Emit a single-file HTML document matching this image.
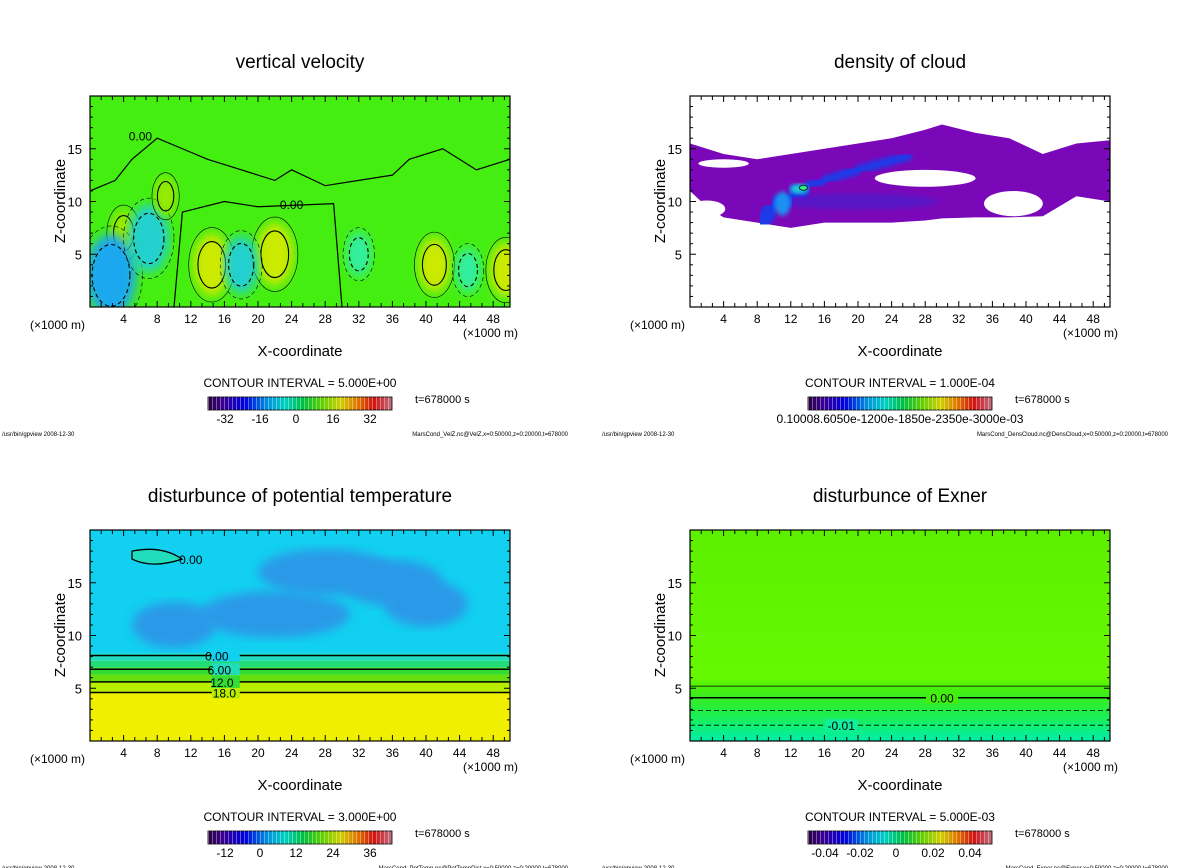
<!DOCTYPE html>
<html><head><meta charset="utf-8">
<style>
body{margin:0;background:#fff;}
svg{display:block;font-family:"Liberation Sans",sans-serif;}
</style></head>
<body>
<svg id="fig" width="1200" height="868" viewBox="0 0 1200 868" xmlns="http://www.w3.org/2000/svg">
<defs>
<linearGradient id="rainbow" x1="0" x2="1" y1="0" y2="0">
<stop offset="0" stop-color="#2a0040"/><stop offset="0.08" stop-color="#3a0090"/>
<stop offset="0.2" stop-color="#0000e0"/><stop offset="0.32" stop-color="#0090e0"/>
<stop offset="0.42" stop-color="#00d0c0"/><stop offset="0.52" stop-color="#00c040"/>
<stop offset="0.62" stop-color="#60d000"/><stop offset="0.72" stop-color="#d0d000"/>
<stop offset="0.82" stop-color="#e07000"/><stop offset="0.9" stop-color="#d01010"/>
<stop offset="1" stop-color="#c07080"/></linearGradient>
<pattern id="stripes" width="4" height="14" patternUnits="userSpaceOnUse"><rect x="0" y="0" width="1" height="14" fill="#fff" opacity="0.35"/></pattern>
<filter id="blur6"><feGaussianBlur stdDeviation="5"/></filter>
<filter id="blur3"><feGaussianBlur stdDeviation="2"/></filter>
<linearGradient id="exgrad" x1="0" x2="0" y1="0" y2="1">
<stop offset="0" stop-color="#5cf000"/><stop offset="0.7" stop-color="#66f800"/>
<stop offset="0.76" stop-color="#44ee11"/><stop offset="0.86" stop-color="#22ee44"/>
<stop offset="1" stop-color="#00eea8"/></linearGradient>
</defs>
<g id="root"></g>
</svg>
<script>
// ---- data arrays ----
const xTicks = [4,8,12,16,20,24,28,32,36,40,44,48];
const zTicks = [5,10,15];
const panelTitles = ["vertical velocity","density of cloud","disturbunce of potential temperature","disturbunce of Exner"];
const intervals = ["5.000E+00","1.000E-04","3.000E+00","5.000E-03"];
const cbLabels0 = ["-32","-16","0","16","32"];
const cbLabels2 = ["-12","0","12","24","36"];
const cbLabels3 = ["-0.04","-0.02","0","0.02","0.04"];
const footers = ["MarsCond_VelZ.nc@VelZ,x=0:50000,z=0:20000,t=678000","MarsCond_DensCloud.nc@DensCloud,x=0:50000,z=0:20000,t=678000","MarsCond_PotTemp.nc@PotTempDist,x=0:50000,z=0:20000,t=678000","MarsCond_Exner.nc@Exner,x=0:50000,z=0:20000,t=678000"];
// vertical velocity cells: x, z (km), value (m/s)
const wX = [14.5,22,41,49.5,4,2.5,7,18,32,45,9];
const wZ = [4,5,4,3.5,7,3,6.5,4,5,3.5,10.5];
const wV = [12,12,9,9,6,-20,-14,-10,-5,-5,3];
// cloud band profile
const cloudX   = [0,2,4,8,12,16,20,24,28,30,34,38,42,46,50];
const cloudTop = [15.5,15,14.5,14,14.5,15,15.5,16,16.8,17.3,16.5,16,14.5,15.5,15.8];
const cloudBot = [11,9.5,8.5,8,7.5,8,8,8,8.2,8.4,8.5,8.5,8.6,10.5,10];
const holeX=[28,38.5,2,4]; const holeZ=[12.2,9.8,9.3,13.6]; const holeRX=[6,3.5,2.2,3]; const holeRZ=[0.8,1.2,0.8,0.4];
const blueX=[8.5,10,12,14,16,20,26]; const blueZ=[8,9.5,10.5,11.5,12,13,14.3];
// potential temperature bands (z bottom, colour)
const thZ=[0,4.6,5.6,6.3,7,7.6,8.3];
const thC=["#eef000","#b8ee00","#66e010","#33dd33","#22dd77","#22ddbb","#11d0f0"];
const thLineZ=[4.6,5.6,6.8,8.1]; const thLineLab=["18.0","12.0","6.00","0.00"];
const thBlobX=[22,28,36,10,40]; const thBlobZ=[12,16,15,11,13]; const thBlobR=[9,8,6,5,5];
// Exner contours
const exLineZ=[5.2,4.1,2.9,1.5]; const exLineLab=["","0.00","","-0.01"];

const NS="http://www.w3.org/2000/svg";
const root=document.getElementById('root');
function el(tag,attrs,parent){const e=document.createElementNS(NS,tag);for(const k in attrs)e.setAttribute(k,attrs[k]);(parent||root).appendChild(e);return e;}
function txt(s,x,y,size,anchor,parent){const t=el('text',{x:x,y:y,'font-size':size,'text-anchor':anchor||'middle',fill:'#000'},parent);t.textContent=s;return t;}

const panels=[{ox:90,oy:96},{ox:690,oy:96},{ox:90,oy:530},{ox:690,oy:530}];
const PW=420, PH=211;
function sx(p,x){return p.ox+x/50*PW;}
function sz(p,z){return p.oy+PH-z/20*PH;}

panels.forEach((p,i)=>{
  const g=el('g',{});
  
  
  const t=txt(panelTitles[i],p.ox+210,p.oy-28,19,'middle',g);
  
  
  const clip=el('clipPath',{id:'clip'+i},g);
  el('rect',{x:p.ox,y:p.oy,width:PW,height:PH},clip);
  const plot=el('g',{'clip-path':'url(#clip'+i+')'},g);
  
  
  if(i===0){
    el('rect',{x:p.ox,y:p.oy,width:PW,height:PH,fill:'#44ee11'},plot);
    wX.forEach((x,k)=>{
      const v=wV[k];
      const col=v>0?(v>8?'#ccea00':'#99ea00'):(v<-15?'#1fa8ee':(v<-8?'#22d0d0':'#33eea0'));
      const rx=Math.abs(v)*0.1+1, rz=Math.abs(v)*0.12+1.5;
      const e=el('ellipse',{cx:sx(p,x),cy:sz(p,wZ[k]),rx:rx/50*PW,ry:rz/20*PH,fill:col,filter:'url(#blur6)'},plot);
      
      
      el('ellipse',{cx:sx(p,x),cy:sz(p,wZ[k]),rx:rx*0.75/50*PW,ry:rz*0.75/20*PH,fill:'none',stroke:'#000','stroke-width':1.1,'stroke-dasharray':v<0?'4 3':'none'},plot);
      el('ellipse',{cx:sx(p,x),cy:sz(p,wZ[k]),rx:rx*1.25/50*PW,ry:rz*1.2/20*PH,fill:'none',stroke:'#000','stroke-width':0.6,'stroke-dasharray':v<0?'4 3':'none'},plot);
    });
    let d='M'+sx(p,0)+','+sz(p,11);
    [[3,12],[5,14],[8,16],[11,15],[14,14],[18,13],[22,12],[24,13],[28,11.5],[32,12],[36,12.5],[38,14],[42,15],[46,13],[50,14]].forEach(q=>d+=' L'+sx(p,q[0])+','+sz(p,q[1]));
    el('path',{d:d,fill:'none',stroke:'#000','stroke-width':1.2},plot);
    let d2='M'+sx(p,10)+','+sz(p,0);
    [[11,9],[16,10],[20,9.5],[29,9.8],[30,0]].forEach(q=>d2+=' L'+sx(p,q[0])+','+sz(p,q[1]));
    el('path',{d:d2,fill:'none',stroke:'#000','stroke-width':1.2},plot);
    txt('0.00',sx(p,6),sz(p,15.8),12,'middle',plot);
    txt('0.00',sx(p,24),sz(p,9.3),12,'middle',plot);
  } else if(i===1){
    el('rect',{x:p.ox,y:p.oy,width:PW,height:PH,fill:'#fff'},plot);
    let d='M'+sx(p,cloudX[0])+','+sz(p,cloudTop[0]);
    cloudX.forEach((x,k)=>d+=' L'+sx(p,x)+','+sz(p,cloudTop[k]));
    for(let k=cloudX.length-1;k>=0;k--)d+=' L'+sx(p,cloudX[k])+','+sz(p,cloudBot[k]);
    const c=el('path',{d:d+'Z',fill:'#7a08b8'},plot);
    
    
    el('ellipse',{cx:sx(p,20),cy:sz(p,10),rx:80,ry:8,fill:'#4a1ccc',filter:'url(#blur3)',opacity:0.7},plot);
    holeX.forEach((x,k)=>{const h=el('ellipse',{cx:sx(p,x),cy:sz(p,holeZ[k]),rx:holeRX[k]/50*PW,ry:holeRZ[k]/20*PH,fill:'#fff'},plot);
      
      });
    blueX.forEach((x,k)=>{if(k===0)return;
      const l=el('line',{x1:sx(p,blueX[k-1]),y1:sz(p,blueZ[k-1]),x2:sx(p,x),y2:sz(p,blueZ[k]),stroke:'#1a3ae8','stroke-width':k<4?16:9,'stroke-linecap':'round',filter:'url(#blur3)'},plot);
      
      });
    el('ellipse',{cx:sx(p,11),cy:sz(p,9.8),rx:8,ry:12,fill:'#1a90f0',filter:'url(#blur3)'},plot);
    el('ellipse',{cx:sx(p,13),cy:sz(p,11.2),rx:9,ry:5,fill:'#22c8d8',filter:'url(#blur3)'},plot);
    el('ellipse',{cx:sx(p,13.5),cy:sz(p,11.3),rx:4,ry:2.5,fill:'#33ee88',stroke:'#000','stroke-width':0.8},plot);
  } else if(i===2){
    thZ.forEach((z,k)=>{const top=k<thZ.length-1?thZ[k+1]:20;
      const r=el('rect',{x:p.ox,y:sz(p,top),width:PW,height:sz(p,z)-sz(p,top),fill:thC[k]},plot);
      
      });
    thBlobX.forEach((x,k)=>{const b=el('ellipse',{cx:sx(p,x),cy:sz(p,thBlobZ[k]),rx:thBlobR[k]/50*PW,ry:2.2/20*PH,fill:'#2a9ae8',filter:'url(#blur6)'},plot);
      
      });
    thLineZ.forEach((z,k)=>{
      const l=el('line',{x1:p.ox,x2:p.ox+PW,y1:sz(p,z),y2:sz(p,z),stroke:'#000','stroke-width':1.5},plot);
      
      
      el('rect',{x:sx(p,14.5),y:sz(p,z)-6,width:28,height:12,fill:thC[Math.min(k*2+1,6)]},plot);
      txt(thLineLab[k],sx(p,16+k*-0.3),sz(p,z)+5,12,'middle',plot);
    });
    el('path',{d:`M${sx(p,5)},${sz(p,18)} q30,-6 50,8 q-30,10 -50,0Z`,fill:'#22ddbb',stroke:'#000','stroke-width':1.3},plot);
    txt('0.00',sx(p,12),sz(p,16.8),12,'middle',plot);
  } else {
    const r=el('rect',{x:p.ox,y:p.oy,width:PW,height:PH,fill:'url(#exgrad)'},plot);
    
    
    exLineZ.forEach((z,k)=>{
      const l=el('line',{x1:p.ox,x2:p.ox+PW,y1:sz(p,z),y2:sz(p,z),stroke:'#000','stroke-width':k===1?1.6:0.8,'stroke-dasharray':z<4?'5 3':'none'},plot);
      
      
      if(exLineLab[k]){const lx=k===1?sx(p,30):sx(p,18);
        el('rect',{x:lx-16,y:sz(p,z)-6,width:32,height:12,fill:k===1?'#44ee11':'#11eea0'},plot);
        txt(exLineLab[k],lx,sz(p,z)+5,12,'middle',plot);}
    });
  }
  const fr=el('rect',{x:p.ox,y:p.oy,width:PW,height:PH,fill:'none',stroke:'#000','stroke-width':1.2},g);
  
  
  for(let x=4/3;x<50;x+=4/3){const big=Math.abs(x/4-Math.round(x/4))<0.01;const L=big?6:4;
    el('line',{x1:sx(p,x),x2:sx(p,x),y1:p.oy+PH,y2:p.oy+PH-L,stroke:'#000'},g);
    el('line',{x1:sx(p,x),x2:sx(p,x),y1:p.oy,y2:p.oy+L,stroke:'#000'},g);}
  for(let z=1;z<20;z++){const L=z%5===0?6:3;
    el('line',{x1:p.ox,x2:p.ox+L,y1:sz(p,z),y2:sz(p,z),stroke:'#000'},g);
    el('line',{x1:p.ox+PW,x2:p.ox+PW-L,y1:sz(p,z),y2:sz(p,z),stroke:'#000'},g);}
  xTicks.forEach(x=>{const t=txt(String(x),sx(p,x),p.oy+PH+16,12,'middle',g);
    
    });
  zTicks.forEach(z=>{const t=txt(String(z),p.ox-8,sz(p,z)+5,13,'end',g);
    
    });
  txt('(\u00d71000 m)',p.ox-60,p.oy+PH+22,12,'start',g);
  txt('(\u00d71000 m)',p.ox+PW+8,p.oy+PH+30,12,'end',g);
  const xl=txt('X-coordinate',p.ox+210,p.oy+PH+49,15,'middle',g);
  
  
  const yl=txt('Z-coordinate',0,0,15,'middle',g);
  yl.setAttribute('transform',`translate(${p.ox-25},${p.oy+105}) rotate(-90)`);
  
  
  txt('CONTOUR INTERVAL = '+intervals[i],p.ox+210,p.oy+PH+80,12,'middle',g);
  const cb=el('rect',{x:p.ox+118,y:p.oy+PH+90,width:184,height:13,fill:'url(#rainbow)',stroke:'#000','stroke-width':0.8},g);
  
  
  el('rect',{x:p.ox+118,y:p.oy+PH+90,width:184,height:13,fill:'url(#stripes)'},g);
  txt('t=678000  s',p.ox+325,p.oy+PH+96,11,'start',g);
  const labs=i===0?cbLabels0:i===2?cbLabels2:i===3?cbLabels3:null;
  if(labs){const pos=[135,170,206,243,280];labs.forEach((s,k)=>txt(s,p.ox+pos[k],p.oy+PH+116,12,'middle',g));}
  else txt('0.10008.6050e-1200e-1850e-2350e-3000e-03',p.ox+210,p.oy+PH+116,12,'middle',g);
  txt('/usr/bin/gpview   2008-12-30',p.ox-88,p.oy+PH+129,6,'start',g);
  txt(footers[i],p.ox+478,p.oy+PH+129,6,'end',g);
});
</script>
</body></html>
